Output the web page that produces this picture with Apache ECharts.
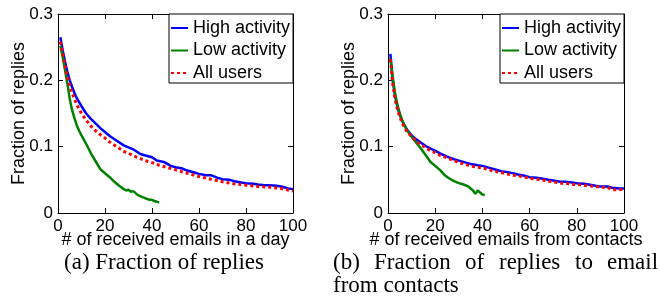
<!DOCTYPE html>
<html>
<head>
<meta charset="utf-8">
<script src="https://cdn.jsdelivr.net/npm/echarts@6/dist/echarts.min.js"></script>
<style>
html,body{margin:0;padding:0;background:#fff;}
#c{width:660px;height:299px;}
</style>
</head>
<body>
<div id="c"></div>
<script>
// ---- Data ----
const seriesNames = ['High activity', 'Low activity', 'All users'];
const xTicks = [0, 20, 40, 60, 80, 100];
const yTicks = [0, 0.1, 0.2, 0.3];

// Panel (a): fraction of replies vs # received emails in a day
const aHighX = [1,2,3,4,5,6,7,8,10,12,14,16,18,20,22,25,28,30,32,35,38,40,42,45,48,50,53,55,58,60,63,65,68,70,73,75,78,80,83,85,88,90,93,95,98,100];
const aHighY = [0.265,0.245,0.228,0.213,0.200,0.190,0.181,0.173,0.161,0.150,0.142,0.135,0.128,0.122,0.116,0.109,0.102,0.099,0.096,0.089,0.086,0.084,0.079,0.077,0.071,0.069,0.067,0.064,0.061,0.059,0.057,0.057,0.053,0.051,0.050,0.048,0.046,0.045,0.044,0.043,0.042,0.042,0.041,0.040,0.037,0.036];
const aLowX = [1,2,3,4,5,6,7,8,9,10,12,14,16,18,20,22,24,26,28,29,30,31,32,34,36,38,39,40,41,42,43];
const aLowY = [0.252,0.235,0.215,0.195,0.172,0.155,0.143,0.132,0.124,0.117,0.104,0.090,0.078,0.066,0.060,0.054,0.047,0.041,0.036,0.034,0.035,0.032,0.033,0.027,0.024,0.021,0.020,0.020,0.018,0.017,0.016];
const aAllX = [1,2,3,4,5,6,7,8,10,12,14,16,18,20,22,25,28,30,33,35,38,40,43,45,48,50,55,60,65,70,75,80,85,90,95,100];
const aAllY = [0.258,0.240,0.222,0.205,0.192,0.181,0.172,0.163,0.150,0.140,0.131,0.124,0.118,0.113,0.107,0.100,0.093,0.090,0.085,0.082,0.078,0.076,0.072,0.070,0.067,0.065,0.060,0.055,0.051,0.047,0.044,0.042,0.040,0.039,0.037,0.033];

// Panel (b): fraction of replies to email from contacts
const bHighX = [1,2,3,4,5,6,7,8,10,12,14,16,18,20,22,25,28,30,33,35,38,40,43,45,48,50,53,55,58,60,63,65,68,70,73,75,78,80,83,85,88,90,93,95,98,100];
const bHighY = [0.240,0.200,0.176,0.160,0.148,0.139,0.132,0.126,0.117,0.111,0.106,0.101,0.097,0.094,0.090,0.085,0.081,0.079,0.076,0.074,0.072,0.071,0.068,0.066,0.063,0.062,0.060,0.058,0.056,0.054,0.053,0.052,0.050,0.049,0.047,0.047,0.046,0.045,0.044,0.043,0.041,0.040,0.040,0.038,0.037,0.037];
const bLowX = [1,2,3,4,5,6,7,8,10,12,14,16,18,20,22,24,26,28,30,32,34,36,37,38,39,40,41];
const bLowY = [0.233,0.205,0.180,0.163,0.150,0.140,0.132,0.125,0.115,0.106,0.097,0.087,0.077,0.071,0.065,0.057,0.052,0.048,0.045,0.043,0.040,0.034,0.029,0.034,0.031,0.028,0.027];
const bAllX = [1,2,3,4,5,6,7,8,10,12,14,16,18,20,22,25,28,30,33,35,38,40,43,45,48,50,53,55,58,60,63,65,68,70,73,75,78,80,83,85,88,90,93,95,98,100];
const bAllY = [0.232,0.195,0.172,0.156,0.145,0.136,0.129,0.123,0.115,0.108,0.103,0.098,0.094,0.091,0.087,0.083,0.079,0.076,0.073,0.071,0.069,0.068,0.065,0.063,0.061,0.059,0.057,0.056,0.054,0.052,0.051,0.050,0.048,0.047,0.045,0.045,0.043,0.043,0.042,0.041,0.040,0.039,0.039,0.035,0.035,0.036];

const xNames = ['# of received emails in a day', '# of received emails from contacts'];
const yName = 'Fraction of replies';
// ---- End data ----

function zip(xs, ys) { return xs.map((x, i) => [x, ys[i]]); }

const colors = ['#0000ff', '#008000', '#ff0000'];
const sans = 'Liberation Sans, Arial, Helvetica, sans-serif';
const serif = 'Liberation Serif, Times New Roman, serif';

const grids = [
  { left: 58, right: 367, top: 14, bottom: 86 },
  { left: 388, right: 36, top: 14, bottom: 86 }
];

const xAxes = [], yAxes = [];
grids.forEach((g, gi) => {
  const common = {
    gridIndex: gi, type: 'value',
    axisLine: { show: true, onZero: false, lineStyle: { color: '#000', width: 1 } },
    axisTick: { show: true, inside: true, length: 5, lineStyle: { color: '#000' } },
    splitLine: { show: false }
  };
  xAxes.push(Object.assign({}, common, {
    position: 'bottom', min: xTicks[0], max: xTicks[xTicks.length - 1], interval: xTicks[1] - xTicks[0],
    axisLabel: { show: true, color: '#000', fontSize: 17, fontFamily: sans, margin: 5 },
    name: xNames[gi], nameLocation: 'middle', nameGap: 18, nameMoveOverlap: false,
    nameTextStyle: { color: '#000', fontSize: 18, fontFamily: sans }
  }));
  xAxes.push(Object.assign({}, common, {
    position: 'top', min: xTicks[0], max: xTicks[xTicks.length - 1], interval: xTicks[1] - xTicks[0],
    axisLabel: { show: false }
  }));
  yAxes.push(Object.assign({}, common, {
    position: 'left', min: yTicks[0], max: yTicks[yTicks.length - 1], interval: 0.1,
    axisLabel: { show: true, color: '#000', fontSize: 17, fontFamily: sans, margin: 5 },
    name: yName, nameLocation: 'middle', nameGap: 30, nameRotate: 90, nameMoveOverlap: false,
    nameTextStyle: { color: '#000', fontSize: 18, fontFamily: sans }
  }));
  yAxes.push(Object.assign({}, common, {
    position: 'right', min: yTicks[0], max: yTicks[yTicks.length - 1], interval: 0.1,
    axisLabel: { show: false }
  }));
});

const panelData = [
  [zip(aHighX, aHighY), zip(aLowX, aLowY), zip(aAllX, aAllY)],
  [zip(bHighX, bHighY), zip(bLowX, bLowY), zip(bAllX, bAllY)]
];

const series = [];
panelData.forEach((sets, gi) => {
  sets.forEach((d, si) => {
    series.push({
      name: seriesNames[si], type: 'line', xAxisIndex: gi * 2, yAxisIndex: gi * 2,
      data: d, symbol: 'none', showSymbol: false, animation: false,
      lineStyle: si === 2
        ? { color: colors[si], width: 3, type: [3, 3] }
        : { color: colors[si], width: 2.5 },
      itemStyle: { color: colors[si] },
      z: 2 + si
    });
  });
});

const legendBase = {
  orient: 'vertical', top: 14, itemWidth: 17, itemHeight: 2, itemGap: 4.5,
  padding: [5, 3, 1, 1], borderColor: '#000', borderWidth: 1, backgroundColor: '#fff',
  itemStyle: { opacity: 0 },
  textStyle: { color: '#000', fontSize: 18, fontFamily: sans },
  data: seriesNames, selectedMode: false
};

const capStyle = { fill: '#000', fontSize: 23, fontFamily: serif };
function capText(str, x, y, align) {
  return { type: 'text', x: x, y: y,
    style: Object.assign({ text: str, textAlign: align || 'left', textVerticalAlign: 'middle' }, capStyle) };
}

const bWords = ['(b)', 'Fraction', 'of', 'replies', 'to', 'email'];
const bWordX = [333, 374, 465, 499, 575, 607];

const graphics = [capText('(a) Fraction of replies', 164, 263, 'center')];
bWords.forEach((w, i) => graphics.push(capText(w, bWordX[i], 263, 'left')));
graphics.push(capText('from contacts', 333, 286, 'left'));

const chart = echarts.init(document.getElementById('c'), null, { renderer: 'canvas' });
chart.setOption({
  backgroundColor: '#fff',
  animation: false,
  grid: grids,
  xAxis: xAxes,
  yAxis: yAxes,
  legend: [
    Object.assign({}, legendBase, { left: 169 }),
    Object.assign({}, legendBase, { left: 500 })
  ],
  series: series,
  graphic: graphics
});
</script>
</body>
</html>
